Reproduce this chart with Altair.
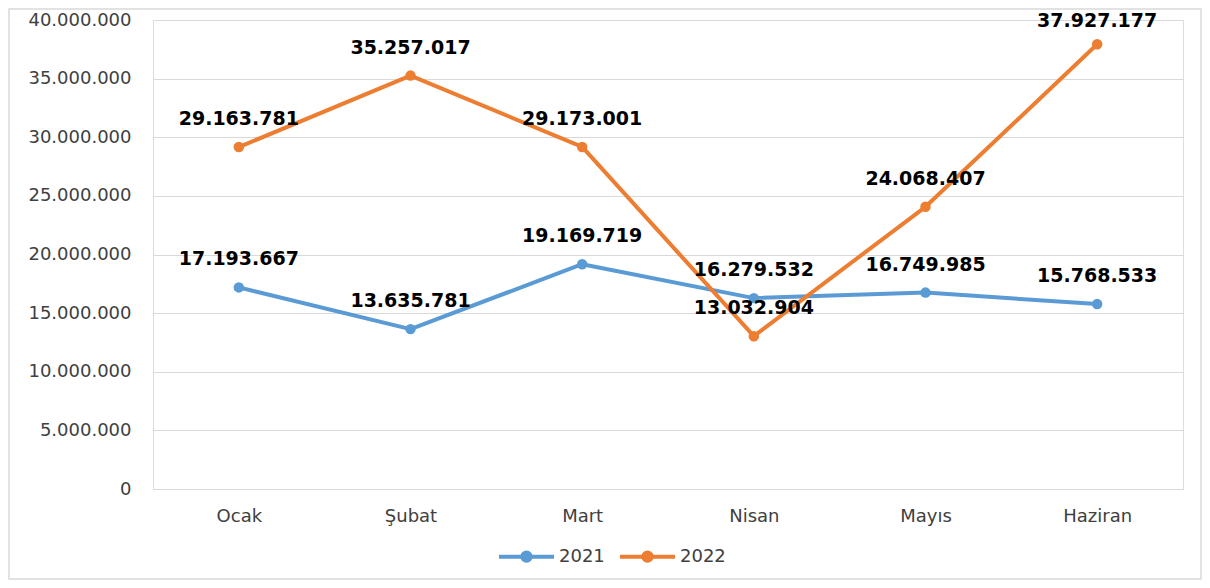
import altair as alt
import pandas as pd

months = ["Ocak", "Şubat", "Mart", "Nisan", "Mayıs", "Haziran"]
values_2021 = [17193667, 13635781, 19169719, 16279532, 16749985, 15768533]
values_2022 = [29163781, 35257017, 29173001, 13032904, 24068407, 37927177]
series = ["2021", "2022"]
y_ticks = [0, 5000000, 10000000, 15000000, 20000000, 25000000, 30000000, 35000000, 40000000]

rows = []
for s, vals in zip(series, [values_2021, values_2022]):
    for m, v in zip(months, vals):
        rows.append({"Ay": m, "Yıl": s, "Değer": v, "Etiket": f"{v:,}".replace(",", ".")})
df = pd.DataFrame(rows)

FONT = "DejaVu Sans"
W, H = 1030, 469
PAD_L, PAD_T, PAD_R, PAD_B = 145, 12, 19, 91
TOT_W = PAD_L + W + PAD_R
TOT_H = PAD_T + H + PAD_B

x_enc = alt.X("Ay:N", sort=months, scale=alt.Scale(type="point", padding=0.5),
              axis=alt.Axis(title=None, labelAngle=0, ticks=False, domain=True,
                            domainColor="#d9d9d9", labelPadding=18, labelFontSize=18,
                            labelColor="#404040", labelFont=FONT, grid=False))
y_enc = alt.Y("Değer:Q", scale=alt.Scale(domain=[0, 40000000], nice=False),
              axis=alt.Axis(title=None, values=y_ticks, ticks=False, domain=False,
                            gridColor="#d9d9d9", gridWidth=1, labelPadding=22,
                            labelFontSize=18, labelColor="#404040", labelFont=FONT,
                            labelExpr="replace(format(datum.value, ',d'), /,/g, '.')"))
color_enc = alt.Color("Yıl:N", scale=alt.Scale(domain=series, range=["#5B9BD5", "#ED7D31"]),
                      legend=alt.Legend(title=None, orient="none", direction="horizontal",
                                        legendX=344, legendY=507,
                                        symbolType="M-1,0 H1 M0.15,0 A0.15,0.15 0 1,1 -0.15,0 A0.15,0.15 0 1,1 0.15,0 Z",
                                        symbolSize=3025, symbolStrokeWidth=4,
                                        labelFontSize=18, labelColor="#404040", labelFont=FONT,
                                        columnPadding=7, labelOffset=3, padding=0))

base = alt.Chart(df).encode(x=x_enc, y=y_enc, color=color_enc)

lines = base.mark_line(strokeWidth=4, strokeCap="round", strokeJoin="round",
                       point=alt.OverlayMarkDef(filled=True, size=110, opacity=1))
label_enc = dict(text="Etiket:N", color=alt.value("#000000"))
labels = base.mark_text(dy=-28, fontSize=19, fontWeight="bold", font=FONT).encode(
    **label_enc).transform_filter("datum['Değer'] < 37000000")
labels_top = base.mark_text(dy=-23, fontSize=19, fontWeight="bold", font=FONT).encode(
    **label_enc).transform_filter("datum['Değer'] >= 37000000")

border = alt.Chart(pd.DataFrame({"a": [0]})).mark_rect(
    fillOpacity=0, stroke="#d9d9d9", strokeWidth=1.5).encode(
    x=alt.value(-PAD_L + 1), x2=alt.value(TOT_W - PAD_L - 1),
    y=alt.value(-PAD_T + 1), y2=alt.value(TOT_H - PAD_T - 1))

chart = alt.layer(border, lines, labels, labels_top).properties(
    width=W, height=H,
    autosize=alt.AutoSizeParams(type="none"),
    padding={"left": PAD_L, "top": PAD_T, "right": PAD_R, "bottom": PAD_B},
).configure_view(stroke=None).configure(background="white")

chart.save("out.html", embed_options={"renderer": "svg", "actions": False})
